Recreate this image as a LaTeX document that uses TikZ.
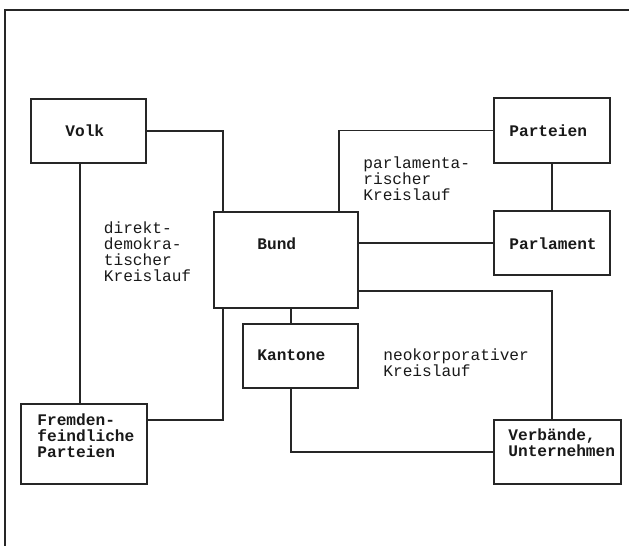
\documentclass[tikz,border=0pt]{standalone}
\usepackage{fontspec}
\setmonofont{Liberation Mono}
\usetikzlibrary{calc}
\tikzstyle{box}=[rectangle, draw=black!85, line width=0.9pt, inner sep=0pt, anchor=center]
\tikzstyle{annot}=[align=left, inner sep=0pt, anchor=west, text=black!90,
  font=\ttfamily\fontsize{9.2pt}{9pt}\selectfont]
\tikzstyle{boxlabel}=[annot, font=\ttfamily\bfseries\fontsize{9.2pt}{9pt}\selectfont]
\tikzstyle{wire}=[draw=black!85, line width=0.7pt]

\begin{document}
\begin{tikzpicture}[x=0.2mm, y=-0.2mm]
	\useasboundingbox (0,0) rectangle (629,546);
	% page frame (cut off at right and bottom)
	\draw[wire] (629,10) -- (5,10) -- (5,546);

	% boxes
	\node[box, minimum width=23mm, minimum height=12.8mm](volk) at (88.5,131){};
	\node[box, minimum width=23.2mm, minimum height=13mm](parteien) at (552,130.5){};
	\node[box, minimum width=28.8mm, minimum height=19.2mm](bund) at (286,260){};
	\node[box, minimum width=23.2mm, minimum height=12.8mm](parlament) at (552,243){};
	\node[box, minimum width=23mm, minimum height=12.8mm](kantone) at (300.5,356){};
	\node[box, minimum width=25.2mm, minimum height=16mm](fremd) at (84,444){};
	\node[box, minimum width=25.4mm, minimum height=12.8mm](verband) at (557.5,452){};

	% texts
	\node[boxlabel](lvolk) at (65,131) {Volk};
	\node[boxlabel](lparteien) at (509,131) {Parteien};
	\node[boxlabel](lbund) at (257,244) {Bund};
	\node[boxlabel](lparlament) at (509,244) {Parlament};
	\node[boxlabel](lkantone) at (257,355) {Kantone};
	\node[boxlabel](lfremd) at (37,436) {Fremden-\\feindliche\\Parteien};
	\node[boxlabel](lverband) at (508,443) {Verbände,\\Unternehmen};

	\node[annot](direkt) at (103.5,251.5) {direkt-\\demokra-\\tischer\\Kreislauf};
	\node[annot](parlam) at (363,179) {parlamenta-\\rischer\\Kreislauf};
	\node[annot](neokorp) at (383,363) {neokorporativer\\Kreislauf};

	% line positions
	\coordinate (dk) at (223,0);
	\coordinate (vl) at (80,0);
	\coordinate (pk) at (339,0);
	\coordinate (nk) at (552,0);
	\coordinate (kk) at (291,0);

	% direktdemokratischer Kreislauf
	\draw[wire] (volk.east) -| (dk |- bund.north);
	\draw[wire] (vl |- volk.south) -- (vl |- fremd.north);
	\draw[wire] ($(fremd.east)+(0,-24)$) -| (dk |- bund.south);

	% parlamentarischer Kreislauf
	\draw[wire] (parteien.west) -| (pk |- bund.north);
	\draw[wire] (parteien) -- (parlament);
	\draw[wire] (parlament.west) -- (parlament.west -| bund.east);

	% neokorporativer Kreislauf
	\draw[wire] ($(bund.east)+(0,31)$) -| (nk |- verband.north);
	\draw[wire] (kk |- bund.south) -- (kk |- kantone.north);
	\draw[wire] (kk |- kantone.south) |- (verband.west);
\end{tikzpicture}
\end{document}
